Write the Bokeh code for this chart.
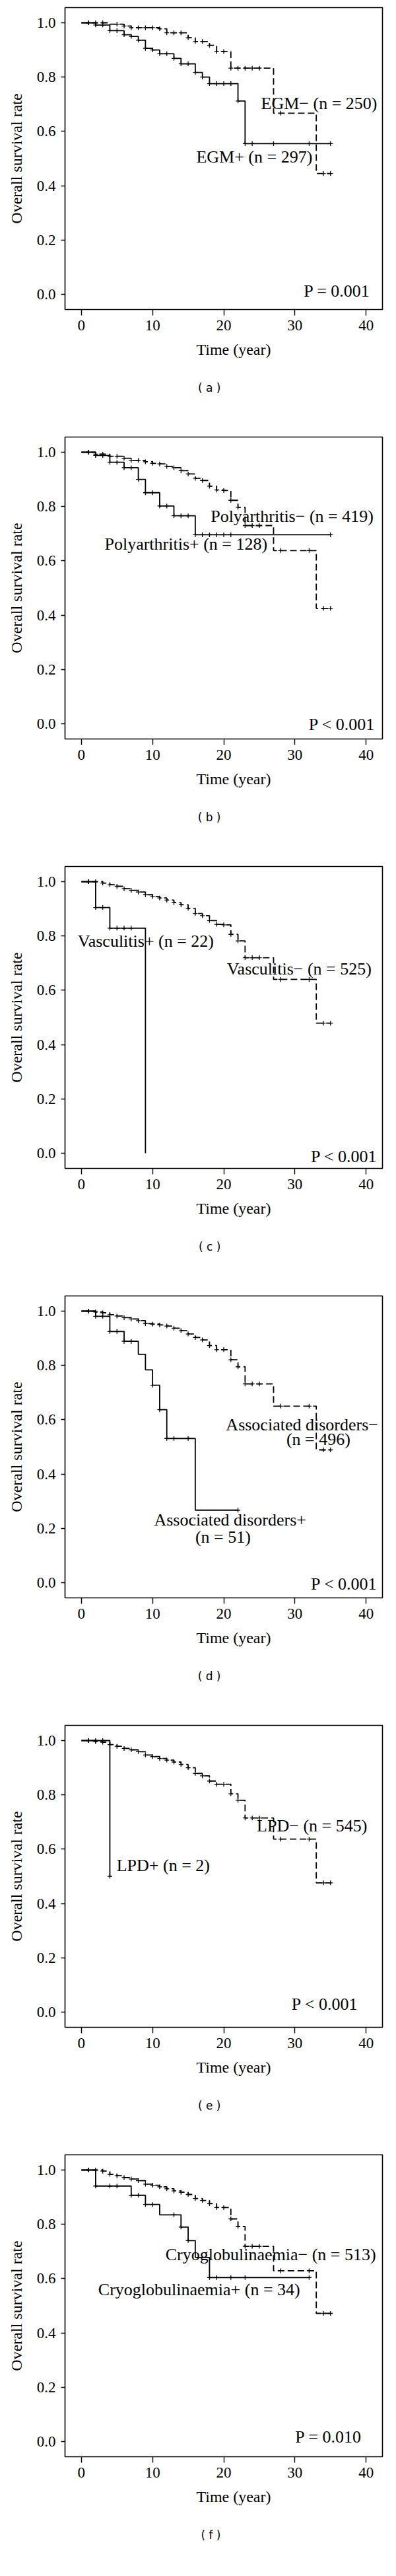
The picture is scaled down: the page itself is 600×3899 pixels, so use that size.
import numpy as np
from bokeh.plotting import figure
from bokeh.layouts import column
from bokeh.models import Range1d, Label, FixedTicker, PrintfTickFormatter, Title
from bokeh.embed import file_html
from bokeh.resources import INLINE

SERIF = "Liberation Serif"
SANS = "DejaVu Sans"

XTICKS = [0, 10, 20, 30, 40]
YTICKS = [0.0, 0.2, 0.4, 0.6, 0.8, 1.0]
X_TITLE = "Time (year)"
Y_TITLE = "Overall survival rate"

# ---------------- (a) EGM ----------------
a_pos_t = [0, 2, 4, 6, 7, 8, 9, 10, 11, 13, 14, 16, 17, 18, 22, 23, 35]
a_pos_s = [1.0, 0.992, 0.971, 0.956, 0.950, 0.936, 0.906, 0.900, 0.886, 0.869, 0.849, 0.817, 0.800, 0.776, 0.712, 0.555, 0.555]
a_pos_c = [1, 2, 3, 4, 5, 6, 7, 8, 9, 10, 11, 12, 13, 14, 15, 16, 17, 18, 19, 20, 21, 22, 23, 24, 27, 32, 35]
a_neg_t = [0, 4, 6, 7, 11, 12, 15, 16, 18, 19, 21, 27, 33, 35]
a_neg_s = [1.0, 0.995, 0.988, 0.982, 0.978, 0.963, 0.945, 0.931, 0.917, 0.894, 0.833, 0.667, 0.445, 0.445]
a_neg_c = [1, 2, 3, 5, 6, 7, 8, 9, 10, 11, 12, 13, 14, 15, 16, 17, 18, 19, 20, 21, 22, 23, 24, 25, 28, 34, 35]

# ---------------- (b) Polyarthritis ----------------
b_pos_t = [0, 2, 4, 6, 8, 9, 11, 13, 16, 35]
b_pos_s = [1.0, 0.988, 0.963, 0.943, 0.900, 0.851, 0.802, 0.766, 0.696, 0.696]
b_pos_c = [1, 2, 3, 4, 5, 6, 7, 8, 9, 10, 11, 12, 13, 14, 15, 16, 17, 18, 19, 20, 21, 35]
b_neg_t = [0, 2, 4, 6, 7, 9, 10, 11, 12, 13, 14, 15, 16, 17, 18, 19, 20, 21, 22, 23, 27, 33, 35]
b_neg_s = [1.0, 0.993, 0.985, 0.978, 0.970, 0.965, 0.959, 0.957, 0.948, 0.943, 0.932, 0.920, 0.904, 0.896, 0.875, 0.861, 0.859, 0.823, 0.797, 0.730, 0.638, 0.425, 0.425]
b_neg_c = [1, 2, 3, 4, 5, 6, 7, 8, 9, 10, 11, 12, 13, 14, 15, 16, 17, 18, 19, 20, 21, 22, 23, 24, 25, 28, 32, 34, 35]

# ---------------- (c) Vasculitis ----------------
c_pos_t = [0, 2, 4, 9]
c_pos_s = [1.0, 0.905, 0.829, 0.0]
c_pos_c = [1, 2, 3, 4, 5, 6, 7]
c_neg_t = [0, 3, 4, 5, 6, 7, 8, 9, 10, 11, 12, 13, 14, 15, 16, 17, 18, 19, 20, 21, 22, 23, 27, 33, 35]
c_neg_s = [1.0, 0.995, 0.989, 0.983, 0.974, 0.968, 0.962, 0.952, 0.945, 0.940, 0.932, 0.923, 0.915, 0.902, 0.883, 0.875, 0.857, 0.843, 0.841, 0.806, 0.782, 0.720, 0.640, 0.479, 0.479]
c_neg_c = [1, 2, 3, 4, 5, 6, 7, 8, 9, 10, 11, 12, 13, 14, 15, 16, 17, 18, 19, 20, 21, 22, 23, 24, 25, 28, 32, 34, 35]

# ---------------- (d) Associated disorders ----------------
d_pos_t = [0, 2, 4, 6, 8, 9, 10, 11, 12, 16, 22]
d_pos_s = [1.0, 0.981, 0.925, 0.889, 0.841, 0.784, 0.727, 0.637, 0.531, 0.267, 0.267]
d_pos_c = [1, 2, 3, 4, 5, 6, 7, 10, 11, 12, 13, 15, 22]
d_neg_t = [0, 2, 3, 4, 5, 6, 7, 8, 9, 10, 11, 12, 13, 14, 15, 16, 17, 18, 19, 21, 22, 23, 27, 33, 35]
d_neg_s = [1.0, 0.997, 0.994, 0.987, 0.982, 0.976, 0.971, 0.965, 0.954, 0.952, 0.949, 0.945, 0.937, 0.928, 0.916, 0.903, 0.894, 0.873, 0.858, 0.821, 0.795, 0.732, 0.650, 0.489, 0.489]
d_neg_c = [1, 2, 3, 4, 5, 6, 7, 8, 9, 10, 11, 12, 13, 14, 15, 16, 17, 18, 19, 20, 21, 22, 23, 24, 25, 28, 32, 34, 35]

# ---------------- (e) LPD ----------------
e_pos_t = [0, 4]
e_pos_s = [1.0, 0.5]
e_pos_c = [1, 2, 3, 4]
e_neg_t = [0, 2, 3, 4, 5, 6, 7, 8, 9, 10, 11, 12, 13, 14, 15, 16, 17, 18, 19, 21, 22, 23, 27, 33, 35]
e_neg_s = [1.0, 0.996, 0.994, 0.985, 0.979, 0.971, 0.966, 0.959, 0.947, 0.941, 0.934, 0.928, 0.921, 0.912, 0.900, 0.879, 0.870, 0.851, 0.839, 0.804, 0.780, 0.715, 0.637, 0.476, 0.476]
e_neg_c = [1, 2, 3, 4, 5, 6, 7, 8, 9, 10, 11, 12, 13, 14, 15, 16, 17, 18, 19, 20, 21, 22, 23, 24, 25, 28, 32, 34, 35]

# ---------------- (f) Cryoglobulinaemia ----------------
f_pos_t = [0, 2, 7, 9, 11, 14, 15, 16, 18, 32]
f_pos_s = [1.0, 0.941, 0.907, 0.873, 0.835, 0.790, 0.740, 0.678, 0.604, 0.604]
f_pos_c = [1, 2, 4, 5, 7, 8, 9, 10, 13, 14, 15, 18, 19, 21, 23, 32]
f_neg_t = [0, 3, 4, 5, 6, 7, 8, 9, 10, 11, 12, 13, 14, 15, 16, 17, 18, 19, 21, 22, 23, 27, 33, 35]
f_neg_s = [1.0, 0.996, 0.984, 0.979, 0.972, 0.967, 0.961, 0.948, 0.944, 0.938, 0.931, 0.923, 0.918, 0.910, 0.895, 0.888, 0.876, 0.862, 0.820, 0.792, 0.719, 0.629, 0.472, 0.472]
f_neg_c = [1, 2, 3, 4, 5, 6, 7, 8, 9, 10, 11, 12, 13, 14, 15, 16, 17, 18, 19, 20, 21, 22, 23, 24, 25, 28, 32, 34, 35]

# text labels: (text, x, y)
a_labels = [("EGM\u2212 (n = 250)", 33.4, 0.704), ("EGM+ (n = 297)", 24.3, 0.506), ("P = 0.001", 35.9, 0.012)]
b_labels = [("Polyarthritis\u2212 (n = 419)", 29.6, 0.763), ("Polyarthritis+ (n = 128)", 14.7, 0.662), ("P < 0.001", 36.6, -0.003)]
c_labels = [("Vasculitis+ (n = 22)", 9.05, 0.780), ("Vasculitis\u2212 (n = 525)", 30.6, 0.679), ("P < 0.001", 36.9, -0.012)]
d_labels = [("Associated disorders\u2212", 31.0, 0.582), ("(n = 496)", 33.3, 0.529),
            ("Associated disorders+", 20.9, 0.232), ("(n = 51)", 19.9, 0.169), ("P < 0.001", 36.9, -0.005)]
e_labels = [("LPD\u2212 (n = 545)", 32.4, 0.685), ("LPD+ (n = 2)", 11.5, 0.540), ("P < 0.001", 34.2, 0.028)]
f_labels = [("Cryoglobulinaemia\u2212 (n = 513)", 26.6, 0.688), ("Cryoglobulinaemia+ (n = 34)", 16.55, 0.560), ("P = 0.010", 34.7, 0.017)]

panels = [
    (a_pos_t, a_pos_s, a_pos_c, a_neg_t, a_neg_s, a_neg_c, a_labels, "( a )"),
    (b_pos_t, b_pos_s, b_pos_c, b_neg_t, b_neg_s, b_neg_c, b_labels, "( b )"),
    (c_pos_t, c_pos_s, c_pos_c, c_neg_t, c_neg_s, c_neg_c, c_labels, "( c )"),
    (d_pos_t, d_pos_s, d_pos_c, d_neg_t, d_neg_s, d_neg_c, d_labels, "( d )"),
    (e_pos_t, e_pos_s, e_pos_c, e_neg_t, e_neg_s, e_neg_c, e_labels, "( e )"),
    (f_pos_t, f_pos_s, f_pos_c, f_neg_t, f_neg_s, f_neg_c, f_labels, "( f )"),
]

W = 584
FRAME_H = 457
TOP = 11


def value_at(t_arr, s_arr, times):
    t_arr = np.asarray(t_arr, dtype=float)
    s_arr = np.asarray(s_arr, dtype=float)
    idx = np.searchsorted(t_arr, np.asarray(times, dtype=float), side="right") - 1
    idx = np.clip(idx, 0, len(s_arr) - 1)
    return s_arr[idx]


def make_panel(pos_t, pos_s, pos_c, neg_t, neg_s, neg_c, labels, tag, height):
    p = figure(width=W, height=height,
               x_range=Range1d(-2.3, 42.3), y_range=Range1d(-0.056, 1.056),
               output_backend="svg", toolbar_location=None,
               min_border_left=98, min_border_right=5, min_border_top=TOP,
               min_border_bottom=height - TOP - FRAME_H)
    p.xgrid.visible = False
    p.ygrid.visible = False
    p.background_fill_color = "white"
    p.border_fill_color = "white"
    p.outline_line_color = "black"
    p.outline_line_width = 1.6
    p.outline_line_alpha = 1.0

    p.xaxis.ticker = FixedTicker(ticks=XTICKS)
    p.yaxis.ticker = FixedTicker(ticks=YTICKS)
    p.yaxis.formatter = PrintfTickFormatter(format="%.1f")
    for ax in (p.xaxis[0], p.yaxis[0]):
        ax.axis_line_color = None
        ax.minor_tick_line_color = None
        ax.major_tick_in = 0
        ax.major_tick_line_color = "black"
        ax.major_tick_line_width = 1.4
        ax.major_label_text_font = SERIF
        ax.major_label_text_font_size = "23px"
        ax.major_label_text_color = "black"
        ax.axis_label_text_font = SERIF
        ax.axis_label_text_font_style = "normal"
        ax.axis_label_text_font_size = "24px"
        ax.axis_label_text_color = "black"
    p.xaxis.major_tick_out = 9
    p.yaxis.major_tick_out = 6
    p.xaxis.major_label_standoff = 7
    p.yaxis.major_label_standoff = 8
    p.yaxis.axis_label = Y_TITLE
    p.yaxis.axis_label_standoff = 15

    # negative group: dashed
    p.step(neg_t, neg_s, mode="after", line_color="black", line_width=1.8, line_dash="10 5")
    p.scatter(neg_c, value_at(neg_t, neg_s, neg_c), marker="cross", size=7,
              line_color="black", line_width=1.3)
    # positive group: solid
    p.step(pos_t, pos_s, mode="after", line_color="black", line_width=1.8)
    p.scatter(pos_c, value_at(pos_t, pos_s, pos_c), marker="cross", size=7,
              line_color="black", line_width=1.3)

    for text, x, y in labels:
        p.add_layout(Label(x=x, y=y, text=text, text_font=SERIF, text_font_size="26px",
                           text_align="center", text_baseline="middle", text_color="black"))

    # x-axis title (slightly right of the frame centre, as in the original)
    p.add_layout(Title(text=X_TITLE, align="right", offset=169, standoff=22,
                       text_font=SERIF, text_font_size="24px", text_font_style="normal",
                       text_color="black"), "below")
    # panel tag
    p.add_layout(Title(text=tag, align="right", offset=245, standoff=44,
                       text_font=SANS, text_font_size="17px", text_font_style="normal",
                       text_color="black"), "below")
    return p


figs = []
for i, spec in enumerate(panels):
    h = 650 if i < 5 else 633
    figs.append(make_panel(*spec, height=h))

layout = column(*figs, spacing=0)
open("out.html", "w").write(file_html(layout, INLINE))
